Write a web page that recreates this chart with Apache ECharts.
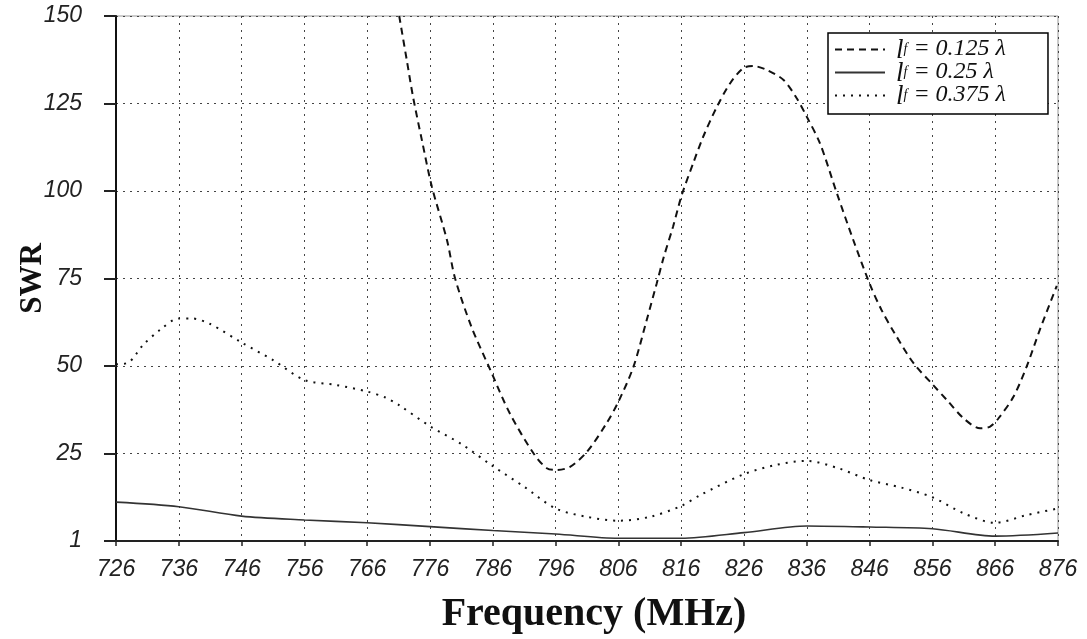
<!DOCTYPE html>
<html>
<head>
  <meta charset="utf-8" />
  <title>SWR vs frequency</title>
  <script src="https://cdn.jsdelivr.net/npm/echarts@6/dist/echarts.min.js"></script>
  <style>
    body { margin: 0; padding: 0; background: #fff; }
    #chart { width: 1087px; height: 639px; }
  </style>
</head>
<body>
  <div id="chart"></div>
  <script>
    // l_f = 0.125 lambda (dashed)
    var freqA = [771.1, 772.3, 773.3, 774.7, 776.3, 778.7, 780, 782.6, 785.6, 788.7, 792.5, 794.6, 796.2, 798.3, 801,
      804.1, 806, 808.4, 810.5, 812.1, 813.2, 814.7, 816.1, 817.9, 819.5, 821.7, 823.8, 825.9, 827.5, 829.6, 832.3,
      834.4, 836, 838.1, 840.8, 843.4, 846.1, 847.9, 850, 853, 856.1, 858.3, 861, 863.6, 865.2, 866.5, 868.9, 871,
      873.1, 875.8];
    var swrA = [150, 137.4, 126.9, 114.6, 101.2, 86, 75, 61.2, 48.9, 36.5, 25, 20.8, 20.3, 21.2, 25.5,
      33.6, 39.8, 49.8, 63.1, 73.6, 81, 89.8, 98.9, 107.9, 115.5, 124.1, 130.8, 135.1, 135.7, 134.6, 131.7,
      126.5, 121.2, 113.6, 99.3, 86, 73.1, 66, 59.3, 50.8, 44.6, 40.3, 35, 32.2, 32.7, 35, 41.2, 49.8,
      60.3, 72.9];

    // l_f = 0.25 lambda (solid)
    var freqB = [726, 736, 746, 756, 766, 776, 786, 796, 806, 816, 826, 836, 846, 856, 866, 876];
    var swrB = [11.1, 9.8, 7.1, 6.0, 5.2, 4.1, 3.0, 2.0, 0.8, 0.8, 2.4, 4.3, 4.0, 3.5, 1.4, 2.3];

    // l_f = 0.375 lambda (dotted)
    var freqC = [726, 728, 730.3, 733, 736, 738, 741, 746, 751, 756, 761, 766, 769, 771, 776, 781, 786, 791, 796,
      801, 806, 811, 816, 819, 826, 831, 836, 841, 846, 851, 856, 861, 866, 871, 876];
    var swrC = [50.5, 51, 56, 60.3, 63.6, 63.6, 62, 56.7, 51.7, 46, 44.6, 42.7, 40.9, 38.9, 32.8, 27.7, 21.4, 15.5, 9.3,
      6.9, 5.8, 6.9, 10, 13.1, 19.1, 21.7, 22.9, 20.8, 17.4, 15.3, 12.5, 7.9, 5.2, 7.4, 9.3];

    var seriesNames = ['0.125 λ', '0.25 λ', '0.375 λ'];

    function pairs(xs, ys) {
      return xs.map(function(x, i) { return [x, ys[i]]; });
    }

    var chart = echarts.init(document.getElementById('chart'), null, { renderer: 'canvas' });

    var labelFont = {
      fontFamily: 'Liberation Sans',
      fontStyle: 'italic',
      fontSize: 23,
      color: '#222'
    };
    var gridLine = { show: true, lineStyle: { color: '#444', type: [2, 5], width: 1 } };
    var legendFont = { fontFamily: 'Liberation Serif', fontStyle: 'italic', color: '#111' };

    chart.setOption({
      animation: false,
      backgroundColor: '#fff',
      grid: {
        left: 116,
        right: 29,
        top: 16,
        bottom: 98,
        outerBoundsMode: 'none',
        show: true,
        borderColor: '#999',
        borderWidth: 1
      },
      legend: {
        orient: 'vertical',
        left: 828,
        top: 33,
        padding: [4, 42, 4, 6],
        itemWidth: 50,
        itemHeight: 14,
        itemGap: -4,
        backgroundColor: '#fff',
        borderColor: '#000',
        borderWidth: 1.5,
        borderRadius: 0,
        itemStyle: { color: 'rgba(0,0,0,0)', borderWidth: 0, opacity: 0 },
        data: seriesNames,
        formatter: function(name) {
          return '{l|l}{s|f}{t| = ' + name + '}';
        },
        textStyle: Object.assign({
          fontSize: 24,
          lineHeight: 15,
          rich: {
            l: Object.assign({ fontSize: 27, lineHeight: 15, verticalAlign: 'top', padding: [0, 0, 0, 6] }, legendFont),
            s: Object.assign({ fontSize: 14, lineHeight: 25, verticalAlign: 'middle' }, legendFont),
            t: Object.assign({ fontSize: 24, lineHeight: 15, verticalAlign: 'top' }, legendFont)
          }
        }, legendFont)
      },
      xAxis: {
        type: 'value',
        min: 726,
        max: 876,
        interval: 10,
        name: 'Frequency (MHz)',
        nameLocation: 'middle',
        nameGap: 54,
        nameTextStyle: {
          fontFamily: 'Liberation Serif',
          fontWeight: 'bold',
          fontSize: 40,
          color: '#111',
          padding: [0, 0, 0, 14]
        },
        axisLine: { onZero: false, lineStyle: { color: '#222', width: 2 } },
        axisTick: { show: true, length: 5, lineStyle: { color: '#222', width: 1.5 } },
        axisLabel: Object.assign({ margin: 17 }, labelFont),
        splitLine: gridLine
      },
      yAxis: {
        type: 'value',
        min: 0,
        max: 150,
        interval: 25,
        name: 'SWR',
        nameLocation: 'middle',
        nameGap: 68,
        nameMoveOverlap: false,
        nameTextStyle: {
          fontFamily: 'Liberation Serif',
          fontWeight: 'bold',
          fontSize: 31,
          color: '#111'
        },
        axisLine: { show: true, lineStyle: { color: '#111', width: 2 } },
        axisTick: { show: true, length: 12, lineStyle: { color: '#222', width: 2 } },
        axisLabel: Object.assign({
          margin: 34,
          formatter: function(v) { return v === 0 ? '1' : v; }
        }, labelFont),
        splitLine: gridLine
      },
      series: [{
        name: seriesNames[0],
        type: 'line',
        data: pairs(freqA, swrA),
        symbol: 'none',
        smooth: 0.3,
        lineStyle: { color: '#111', width: 2, type: [7, 5] },
        itemStyle: { color: '#111' }
      }, {
        name: seriesNames[1],
        type: 'line',
        data: pairs(freqB, swrB),
        symbol: 'none',
        smooth: 0.3,
        lineStyle: { color: '#333', width: 1.6, type: 'solid' },
        itemStyle: { color: '#333' }
      }, {
        name: seriesNames[2],
        type: 'line',
        data: pairs(freqC, swrC),
        symbol: 'none',
        smooth: 0.3,
        lineStyle: { color: '#111', width: 2, type: [2, 6] },
        itemStyle: { color: '#111' }
      }]
    });
  </script>
</body>
</html>
